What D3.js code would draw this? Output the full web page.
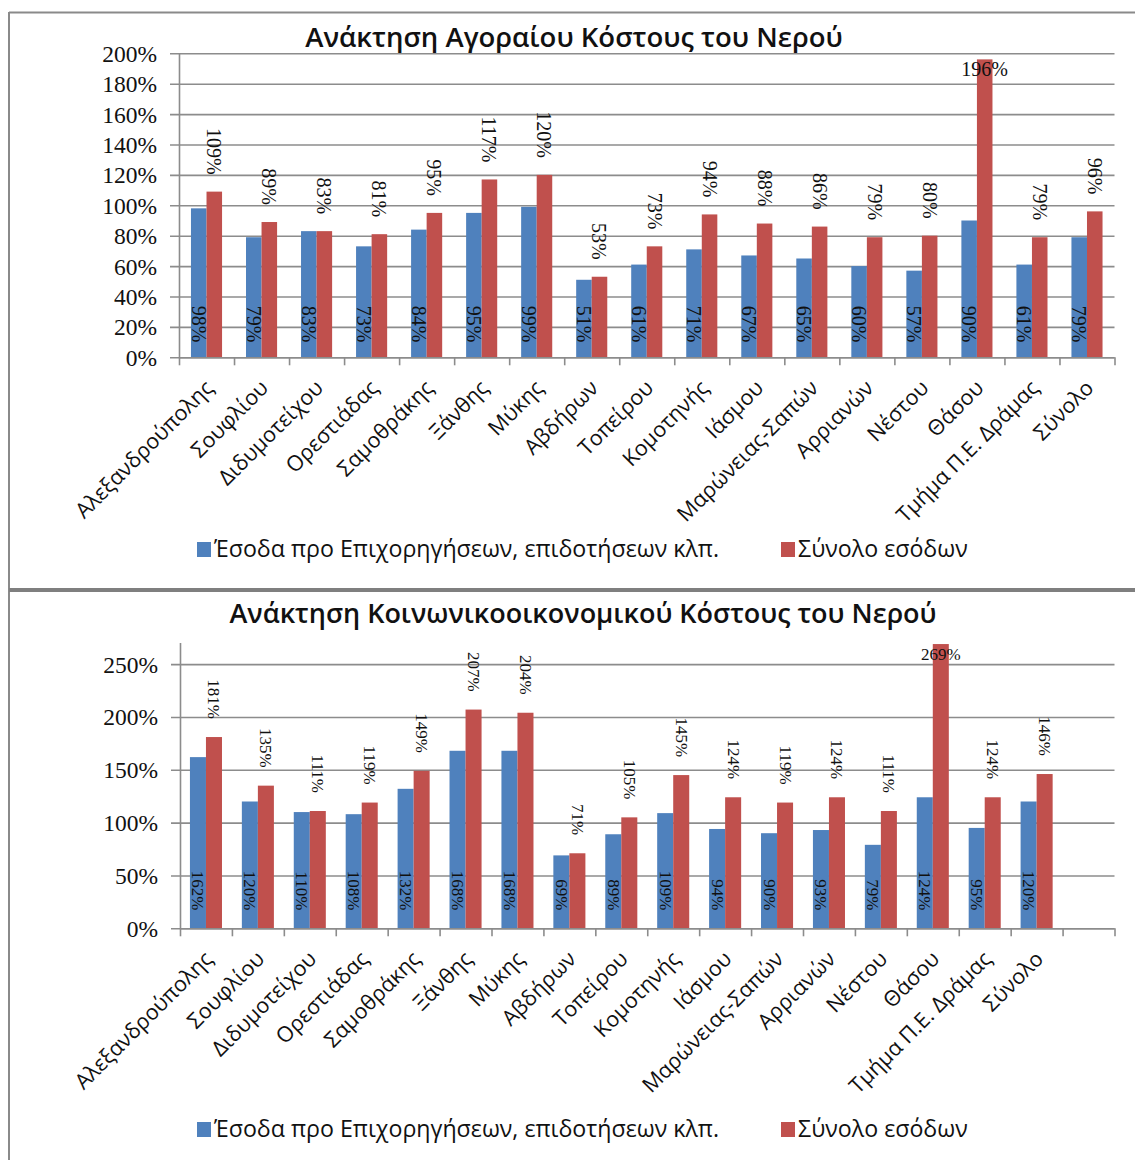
<!DOCTYPE html>
<html>
<head>
<meta charset="utf-8">
<script src="https://cdn.jsdelivr.net/npm/d3@7"></script>
<style>
  html, body { margin: 0; padding: 0; background: #ffffff; }
  svg { display: block; }
</style>
</head>
<body>
<script>
// ---------------- DATA ----------------
const categories = ["Αλεξανδρούπολης","Σουφλίου","Διδυμοτείχου","Ορεστιάδας","Σαμοθράκης","Ξάνθης","Μύκης","Αβδήρων","Τοπείρου","Κομοτηνής","Ιάσμου","Μαρώνειας-Σαπών","Αρριανών","Νέστου","Θάσου","Τμήμα Π.Ε. Δράμας","Σύνολο"];
const seriesNames = ["Έσοδα προ Επιχορηγήσεων, επιδοτήσεων κλπ.", "Σύνολο εσόδων"];

const title1 = "Ανάκτηση Αγοραίου Κόστους του Νερού";
const market_pre = [98,79,83,73,84,95,99,51,61,71,67,65,60,57,90,61,79];
const market_total = [109,89,83,81,95,117,120,53,73,94,88,86,79,80,196,79,96];
const yTicks1 = [0,20,40,60,80,100,120,140,160,180,200];

const title2 = "Ανάκτηση Κοινωνικοοικονομικού Κόστους του Νερού";
const social_pre = [162,120,110,108,132,168,168,69,89,109,94,90,93,79,124,95,120];
const social_total = [181,135,111,119,149,207,204,71,105,145,124,119,124,111,269,124,146];
const yTicks2 = [0,50,100,150,200,250];
const extraCategory2 = [""]; // empty trailing slot on the second chart's axis

const colors = ["#4F81BD", "#C0504D"];
const pct = d => d + "%";

// ---------------- DRAW ----------------
const W = 1135, H = 1160;
const svg = d3.select("body").append("svg").attr("width", W).attr("height", H);

// frame lines
const frameColor = "#8a8a8a";
svg.append("line").attr("x1", 9).attr("x2", W).attr("y1", 12.5).attr("y2", 12.5)
  .attr("stroke", frameColor).attr("stroke-width", 2);
svg.append("line").attr("x1", 9).attr("x2", 9).attr("y1", 12).attr("y2", H)
  .attr("stroke", frameColor).attr("stroke-width", 2);
svg.append("line").attr("x1", 9).attr("x2", W).attr("y1", 590).attr("y2", 590)
  .attr("stroke", "#7f7f7f").attr("stroke-width", 4);

const SANS = "'Open Sans', 'Noto Sans', sans-serif";
const SERIF = "'Liberation Serif', 'DejaVu Serif', serif";

function drawChart(cfg) {
  const g = svg.append("g");
  const cats = cfg.categories;
  const x = d3.scaleBand().domain(cats).range([cfg.x0, cfg.x1]).padding(0);
  const xs = d3.scaleBand().domain([0, 1]).range([0, x.bandwidth()])
    .paddingInner(0).paddingOuter(cfg.outerPad);
  const y = d3.scaleLinear().domain([0, cfg.yMax]).range([cfg.yBase, cfg.yTop]);

  // title
  g.append("text").attr("x", cfg.titleX).attr("y", cfg.titleY)
    .attr("text-anchor", "middle").attr("font-family", SANS).attr("font-weight", 600)
    .attr("font-size", cfg.titleSize).attr("fill", "#111").text(cfg.title);

  // gridlines + y tick marks
  g.append("g").selectAll("line").data(cfg.yTicks).join("line")
    .attr("x1", cfg.x0 - 9).attr("x2", cfg.x1)
    .attr("y1", d => y(d) + 0.5).attr("y2", d => y(d) + 0.5)
    .attr("stroke", "#8c8c8c").attr("stroke-width", 1.6);

  // y axis via d3 axis (labels only)
  const yAxis = d3.axisLeft(y).tickValues(cfg.yTicks).tickFormat(pct).tickSize(0).tickPadding(0);
  const ya = g.append("g").attr("transform", `translate(${cfg.x0 - 22},0)`).call(yAxis);
  ya.select(".domain").remove();
  ya.selectAll("text").attr("font-family", SERIF).attr("font-size", cfg.yLabelSize)
    .attr("fill", "#111").attr("dy", "0.34em");

  // axis lines
  g.append("line").attr("x1", cfg.x0 + 0.5).attr("x2", cfg.x0 + 0.5)
    .attr("y1", y(cfg.yMax)).attr("y2", cfg.yBase + 1)
    .attr("stroke", "#8c8c8c").attr("stroke-width", 1.6);

  // bars
  const series = [cfg.pre, cfg.total];
  series.forEach((vals, si) => {
    g.append("g").selectAll("rect").data(vals).join("rect")
      .attr("x", (d, i) => x(cats[i]) + xs(si))
      .attr("width", xs.bandwidth())
      .attr("y", d => y(d))
      .attr("height", d => y(0) - y(d))
      .attr("fill", colors[si]);
  });

  // x axis line + ticks between categories
  g.append("line").attr("x1", cfg.x0).attr("x2", cfg.x1)
    .attr("y1", cfg.yBase + 0.5).attr("y2", cfg.yBase + 0.5)
    .attr("stroke", "#8c8c8c").attr("stroke-width", 1.6);
  const tickXs = cats.map(c => x(c)).concat([cfg.x1]);
  g.append("g").selectAll("line").data(tickXs).join("line")
    .attr("x1", d => d + 0.5).attr("x2", d => d + 0.5)
    .attr("y1", cfg.yBase).attr("y2", cfg.yBase + 8)
    .attr("stroke", "#8c8c8c").attr("stroke-width", 1.6);

  // category labels
  g.append("g").selectAll("text").data(cats).join("text")
    .attr("transform", c => `translate(${x(c) + x.bandwidth() / 2 + cfg.lblDx},${cfg.yBase + cfg.lblDy}) rotate(-45)`)
    .attr("text-anchor", "end").attr("dominant-baseline", "central")
    .attr("font-family", SANS).attr("font-size", cfg.catSize).attr("fill", "#111")
    .text(c => c);

  // data labels: pre (inside base, rotated)
  g.append("g").selectAll("text").data(cfg.pre).join("text")
    .attr("transform", (d, i) => `translate(${x(cats[i]) + xs(0) + xs.bandwidth() / 2},${cfg.yBase - cfg.baseGap}) rotate(90)`)
    .attr("text-anchor", "end").attr("dominant-baseline", "central")
    .attr("font-family", SERIF).attr("font-size", cfg.dataSize).attr("fill", "#111")
    .text(pct);

  // data labels: total (outside end, rotated; horizontal inside when no room)
  const tl = g.append("g");
  cfg.total.forEach((d, i) => {
    const cx = x(cats[i]) + xs(1) + xs.bandwidth() / 2;
    const top = y(d);
    const t = tl.append("text").attr("font-family", SERIF).attr("font-size", cfg.dataSize)
      .attr("fill", "#111").text(pct(d));
    const len = t.node().getComputedTextLength();
    if (top - cfg.topGap - len < cfg.yTop - 8) {
      t.attr("x", cx).attr("y", top + cfg.horizBase).attr("text-anchor", "middle");
    } else {
      t.attr("transform", `translate(${cx},${top - cfg.topGap}) rotate(90)`)
        .attr("text-anchor", "end").attr("dominant-baseline", "central");
    }
  });

  // legend
  const lg = g.append("g");
  cfg.legendX.forEach((lx, si) => {
    lg.append("rect").attr("x", lx).attr("y", cfg.legendY - 15).attr("width", 14).attr("height", 15)
      .attr("fill", colors[si]);
    lg.append("text").attr("x", lx + 17).attr("y", cfg.legendY)
      .attr("font-family", SANS).attr("font-size", cfg.legendSize).attr("fill", "#111")
      .text(seriesNames[si]);
  });
}

drawChart({
  title: title1, titleX: 574, titleY: 47, titleSize: 27.5,
  categories: categories, pre: market_pre, total: market_total,
  x0: 179, x1: 1114.5, yBase: 357.3, yTop: 53.3, yMax: 200, yTicks: yTicks1,
  outerPad: 0.77, yLabelSize: 23.5, dataSize: 20, catSize: 21.5,
  lblDx: 2, lblDy: 26, baseGap: 15, topGap: 17, horizBase: 17,
  legendX: [197, 781], legendY: 557, legendSize: 23.2
});

drawChart({
  title: title2, titleX: 583, titleY: 623, titleSize: 27,
  categories: categories.concat(extraCategory2), pre: social_pre, total: social_total,
  x0: 180, x1: 1114.5, yBase: 928.3, yTop: 643, yMax: 270, yTicks: yTicks2,
  outerPad: 0.62, yLabelSize: 23.5, dataSize: 17, catSize: 21.5,
  lblDx: 2, lblDy: 26, baseGap: 18, topGap: 18, horizBase: 16,
  legendX: [197, 781], legendY: 1137, legendSize: 23.2
});
</script>
</body>
</html>
